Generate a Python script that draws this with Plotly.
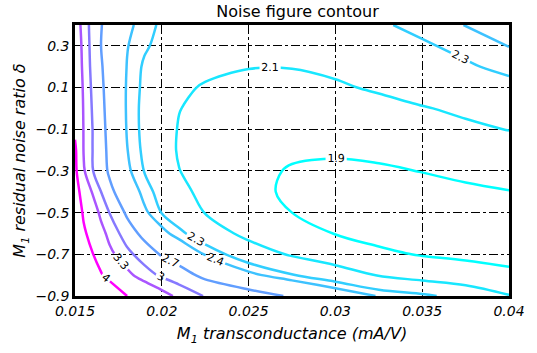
import plotly.graph_objects as go

# M1 transconductance (mA/V) grid columns
gm = [0.015, 0.0155, 0.016, 0.0165, 0.017, 0.018, 0.019, 0.02, 0.021,
      0.0225, 0.025, 0.0275, 0.03, 0.0325, 0.035, 0.0375, 0.04]
# residual noise ratio delta grid rows (bottom to top)
delta = [-0.9, -0.8, -0.7, -0.6, -0.5, -0.4, -0.3, -0.2, -0.1, 0.0, 0.1, 0.2, 0.3, 0.4]

# noise figure values (one row per delta)
nf_m09 = [7.0, 6.2, 5.5, 5.0, 4.5, 4.0, 3.7, 3.44, 3.22, 2.98, 2.82, 2.67, 2.52, 2.39, 2.33, 2.24, 2.11]
nf_m08 = [5.8, 5.0, 4.45, 4.05, 3.8, 3.4, 3.13, 2.95, 2.82, 2.63, 2.44, 2.31, 2.2, 2.09, 2.02, 1.97, 1.92]
nf_m07 = [5.2, 4.5, 4.03, 3.73, 3.39, 3.08, 2.86, 2.67, 2.56, 2.39, 2.2, 2.08, 1.99, 1.93, 1.89, 1.87, 1.87]
nf_m06 = [4.8, 4.1, 3.77, 3.43, 3.19, 2.85, 2.61, 2.45, 2.336, 2.2, 2.05, 1.98, 1.895, 1.85, 1.835, 1.835, 1.84]
nf_m05 = [4.5, 3.91, 3.53, 3.21, 2.99, 2.65, 2.43, 2.295, 2.2, 2.095, 2.0, 1.9, 1.85, 1.84, 1.845, 1.85, 1.86]
nf_m04 = [4.3, 3.71, 3.27, 3.0, 2.76, 2.53, 2.35, 2.25, 2.14, 2.06, 1.95, 1.87, 1.85, 1.86, 1.87, 1.88, 1.895]
nf_m03 = [4.15, 3.34, 3.02, 2.81, 2.66, 2.43, 2.295, 2.2, 2.103, 2.04, 1.95, 1.885, 1.87, 1.88, 1.903, 1.925, 1.96]
nf_m02 = [4.1, 3.28, 3.005, 2.79, 2.64, 2.405, 2.27, 2.17, 2.085, 2.02, 1.96, 1.93, 1.92, 1.935, 1.96, 1.99, 2.03]
nf_m01 = [3.9, 3.28, 3.005, 2.78, 2.62, 2.39, 2.26, 2.17, 2.09, 2.04, 1.98, 1.96, 1.96, 1.99, 2.03, 2.07, 2.105]
nf_p00 = [3.75, 3.27, 2.98, 2.76, 2.61, 2.384, 2.26, 2.18, 2.104, 2.06, 2.01, 2.0, 2.01, 2.05, 2.09, 2.13, 2.17]
nf_p01 = [3.65, 3.255, 2.95, 2.74, 2.606, 2.385, 2.27, 2.2, 2.13, 2.085, 2.06, 2.055, 2.08, 2.12, 2.17, 2.22, 2.25]
nf_p02 = [3.62, 3.22, 2.92, 2.72, 2.60, 2.394, 2.28, 2.22, 2.18, 2.14, 2.105, 2.105, 2.13, 2.18, 2.23, 2.28, 2.34]
nf_p03 = [3.58, 3.20, 2.90, 2.70, 2.60, 2.407, 2.318, 2.26, 2.22, 2.19, 2.16, 2.16, 2.18, 2.23, 2.28, 2.34, 2.403]
nf_p04 = [3.55, 3.15, 2.90, 2.71, 2.61, 2.436, 2.343, 2.28, 2.25, 2.22, 2.19, 2.2, 2.23, 2.28, 2.34, 2.403, 2.46]

nf = [nf_m09, nf_m08, nf_m07, nf_m06, nf_m05, nf_m04, nf_m03,
      nf_m02, nf_m01, nf_p00, nf_p01, nf_p02, nf_p03, nf_p04]

levels = [1.9, 2.1, 2.3, 2.4, 2.7, 3.0, 3.3, 4.0]
level_colors = ["#00ffff", "#18e7ff", "#31ceff", "#3dc2ff",
                "#619eff", "#8679ff", "#aa55ff", "#ff00ff"]

x_ticks = [0.015, 0.02, 0.025, 0.03, 0.035, 0.04]
x_ticktext = ["0.015", "0.02", "0.025", "0.03", "0.035", "0.04"]
y_ticks = [-0.9, -0.7, -0.5, -0.3, -0.1, 0.1, 0.3]
y_ticktext = ["\u22120.9", "\u22120.7", "\u22120.5", "\u22120.3", "\u22120.1", "0.1", "0.3"]

FONT = "DejaVu Sans, sans-serif"

fig = go.Figure()
for lv, col in zip(levels, level_colors):
    fig.add_trace(go.Contour(
        x=gm, y=delta, z=nf,
        autocontour=False,
        contours=dict(start=lv, end=lv, size=1, coloring="lines",
                      showlabels=True,
                      labelfont=dict(family=FONT, size=11, color="black")),
        line=dict(width=2.5, smoothing=1.0),
        colorscale=[[0, col], [1, col]],
        showscale=False,
        hoverinfo="skip",
    ))

axis_common = dict(
    showline=True, mirror=True, linecolor="black", linewidth=2.5,
    showgrid=True, gridcolor="black", gridwidth=1, griddash="dashdot",
    zeroline=False, ticks="",
    tickfont=dict(family=FONT, size=14, color="black"),
)

fig.update_xaxes(range=[0.015, 0.04], tickvals=x_ticks,
                 ticktext=["<i>%s</i>" % t for t in x_ticktext],
                 title=dict(text="<i>M<sub>1</sub> transconductance (mA/V)</i>",
                            font=dict(family=FONT, size=16, color="black"),
                            standoff=11),
                 **axis_common)
fig.update_yaxes(range=[-0.9, 0.4], tickvals=y_ticks,
                 ticktext=["<i>%s</i>" % t for t in y_ticktext],
                 title=dict(text="<i>M<sub>1</sub> residual noise ratio \u03b4</i>",
                            font=dict(family=FONT, size=16, color="black"),
                            standoff=6),
                 **axis_common)

fig.update_layout(
    width=537, height=353,
    margin=dict(l=75, r=17, t=25, b=44),
    paper_bgcolor="white", plot_bgcolor="white",
    title=dict(text="Noise figure contour", x=0.554, xanchor="center",
               y=1 - 11 / 353, yanchor="middle", yref="container",
               font=dict(family=FONT, size=16, color="black")),
    showlegend=False,
)

fig.write_html("out.html")
